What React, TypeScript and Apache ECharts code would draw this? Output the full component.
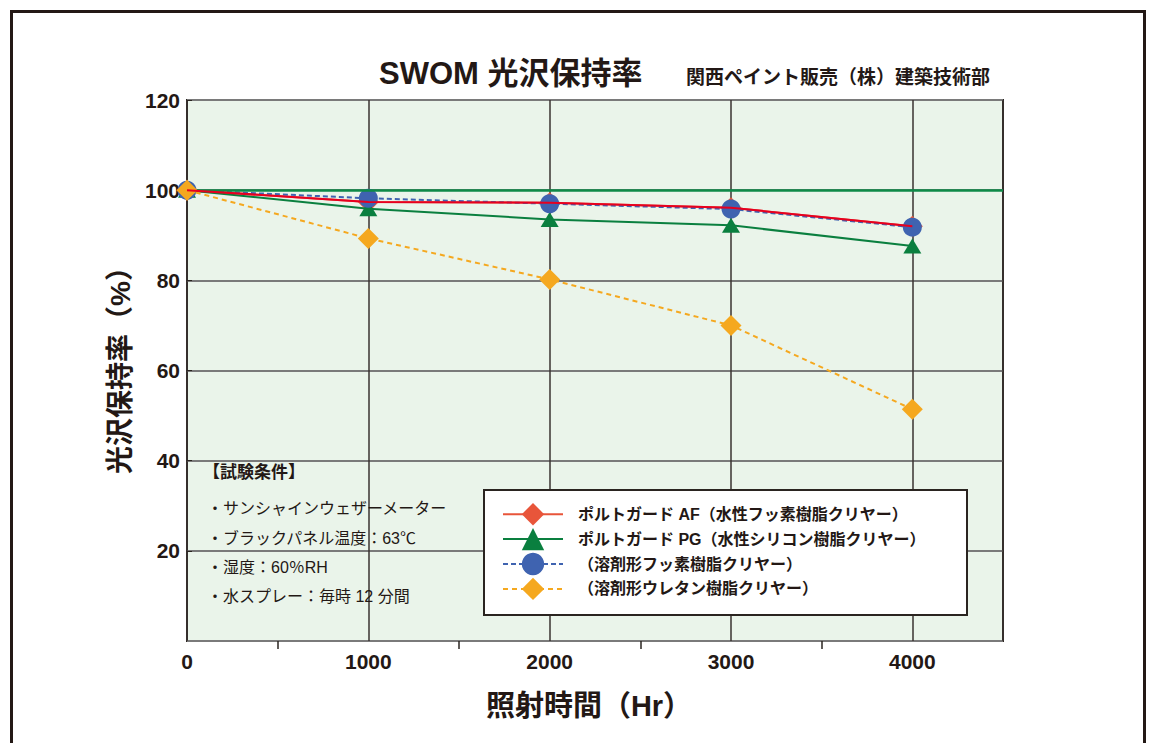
import React, { useEffect, useRef } from 'react';
import * as echarts from 'echarts';

const hours = [0, 1000, 2000, 3000, 4000];
const afValues = [100, 97.4, 97.2, 96.1, 92.0];
const pgValues = [100, 95.9, 93.5, 92.2, 87.6];
const fluoroValues = [100, 98.2, 97.0, 95.8, 91.8];
const urethaneValues = [100, 89.3, 80.2, 70.0, 51.4];
const referenceLevel = [100];

const seriesNames = [
  'ポルトガード AF（水性フッ素樹脂クリヤー）',
  'ポルトガード PG（水性シリコン樹脂クリヤー）',
  '（溶剤形フッ素樹脂クリヤー）',
  '（溶剤形ウレタン樹脂クリヤー）',
];
const conditionLines = [
  '【試験条件】',
  '・サンシャインウェザーメーター',
  '・ブラックパネル温度：63℃',
  '・湿度：60％RH',
  '・水スプレー：毎時 12 分間',
];
const titleText = 'SWOM 光沢保持率';
const subtitleText = '関西ペイント販売（株）建築技術部';
const yName = '光沢保持率（%）';
const xName = '照射時間（Hr）';

const FONT = '"Liberation Sans", "Noto Sans CJK JP", sans-serif';
const INK = '#231815';

const pair = (vals: number[]) => hours.map((h, i) => [h, vals[i]]);

export default function App() {
  const ref = useRef<HTMLDivElement>(null);
  useEffect(() => {
    if (!ref.current) return;
    const chart = echarts.init(ref.current, null, { renderer: 'svg' });
    const condY = [472, 508, 538, 567, 596];
    chart.setOption({
      animation: false,
      backgroundColor: '#ffffff',
      title: [
        { text: titleText, left: 379, top: 58, padding: 0, textStyle: { fontFamily: FONT, fontSize: 31, fontWeight: 'bold', color: INK } },
        { text: subtitleText, left: 686, top: 68, padding: 0, textStyle: { fontFamily: FONT, fontSize: 19, fontWeight: 'bold', color: INK } },
      ],
      grid: {
        left: 187, top: 100, right: 148, bottom: 102,
        show: true, backgroundColor: '#EAF4EA', borderColor: '#2a2420', borderWidth: 2,
      },
      xAxis: {
        type: 'value', min: 0, max: 4500, interval: 1000,
        name: xName, nameLocation: 'middle', nameGap: 50,
        nameTextStyle: { fontFamily: FONT, fontSize: 29, fontWeight: 'bold', color: INK, padding: [0, 12, 0, 0] },
        axisLine: { show: false },
        axisTick: { show: false },
        minorTick: { show: true, splitNumber: 2, length: 8, lineStyle: { color: '#2a2420', width: 1.5 } },
        minorSplitLine: { show: false },
        splitLine: { show: true, lineStyle: { color: '#3a3330', width: 1.5 } },
        axisLabel: {
          showMaxLabel: false, margin: 10, fontFamily: FONT, fontSize: 21, fontWeight: 'bold', color: INK,
          formatter: (v: number) => String(v),
        },
      },
      yAxis: {
        type: 'value', min: 0, max: 120, interval: 20,
        name: yName, nameLocation: 'middle', nameRotate: 90, nameGap: 39,
        nameTextStyle: { fontFamily: FONT, fontSize: 28, fontWeight: 'bold', color: INK, padding: [0, 0, 0, 14] },
        axisLine: { show: false },
        axisTick: { show: true, inside: true, length: 5, lineStyle: { color: '#2a2420' } },
        splitLine: { show: true, lineStyle: { color: '#7a7a7a', width: 2 } },
        axisLabel: { showMinLabel: false, margin: 7, fontFamily: FONT, fontSize: 21, fontWeight: 'bold', color: INK },
      },
      legend: {
        orient: 'vertical', left: 502, top: 503, padding: 0,
        itemWidth: 60, itemHeight: 28, itemGap: 2.5,
        data: seriesNames,
        textStyle: { fontFamily: FONT, fontSize: 16, fontWeight: 'bold', color: INK, padding: [0, 0, 0, 10] },
        z: 10,
      },
      graphic: [
        { type: 'rect', z: 100, shape: { x: 11.5, y: 11.5, width: 1133, height: 800 }, style: { fill: 'none', stroke: INK, lineWidth: 3 } },
        { type: 'rect', z: 5, shape: { x: 484, y: 490, width: 483, height: 125 }, style: { fill: '#ffffff', stroke: '#2a2420', lineWidth: 2 } },
        ...conditionLines.map((t, i) => ({
          type: 'text', z: 6, x: i === 0 ? 203 : 207, y: condY[i],
          style: { text: t, fontFamily: FONT, fontSize: i === 0 ? 17 : 16, fontWeight: i === 0 ? 'bold' : 'normal', fill: INK, verticalAlign: 'middle' },
        })),
      ],
      series: [
        {
          name: seriesNames[0], type: 'line', z: 2, data: pair(afValues),
          symbol: 'diamond', symbolSize: 21,
          lineStyle: { color: '#E8553A', width: 2 }, itemStyle: { color: '#E8553A' },
        },
        {
          name: seriesNames[1], type: 'line', z: 3, data: pair(pgValues),
          symbol: 'triangle', symbolSize: [18, 15],
          lineStyle: { color: '#0A7F3F', width: 2 }, itemStyle: { color: '#0A7F3F' },
          markLine: {
            silent: true, symbol: ['none', 'none'], label: { show: false },
            lineStyle: { color: '#0E8A48', width: 2.5, type: 'solid' },
            data: referenceLevel.map((v) => ({ yAxis: v })),
          },
        },
        {
          name: seriesNames[2], type: 'line', z: 4, data: pair(fluoroValues),
          symbol: 'circle', symbolSize: 19,
          lineStyle: { color: '#3F63B0', width: 2, type: [5, 3] }, itemStyle: { color: '#3F63B0' },
        },
        {
          name: seriesNames[3], type: 'line', z: 5, data: pair(urethaneValues),
          symbol: 'diamond', symbolSize: 21,
          lineStyle: { color: '#F5A81F', width: 2, type: [5, 4] }, itemStyle: { color: '#F5A81F' },
        },
        {
          name: 'AF-line', type: 'line', z: 6, data: pair(afValues),
          symbol: 'none', lineStyle: { color: '#E60020', width: 2 }, silent: true,
        },
      ],
    });
    return () => chart.dispose();
  }, []);
  return (
    <div ref={ref} style={{ position: 'fixed', left: 0, top: 0, width: 1151, height: 743 }} />
  );
}
